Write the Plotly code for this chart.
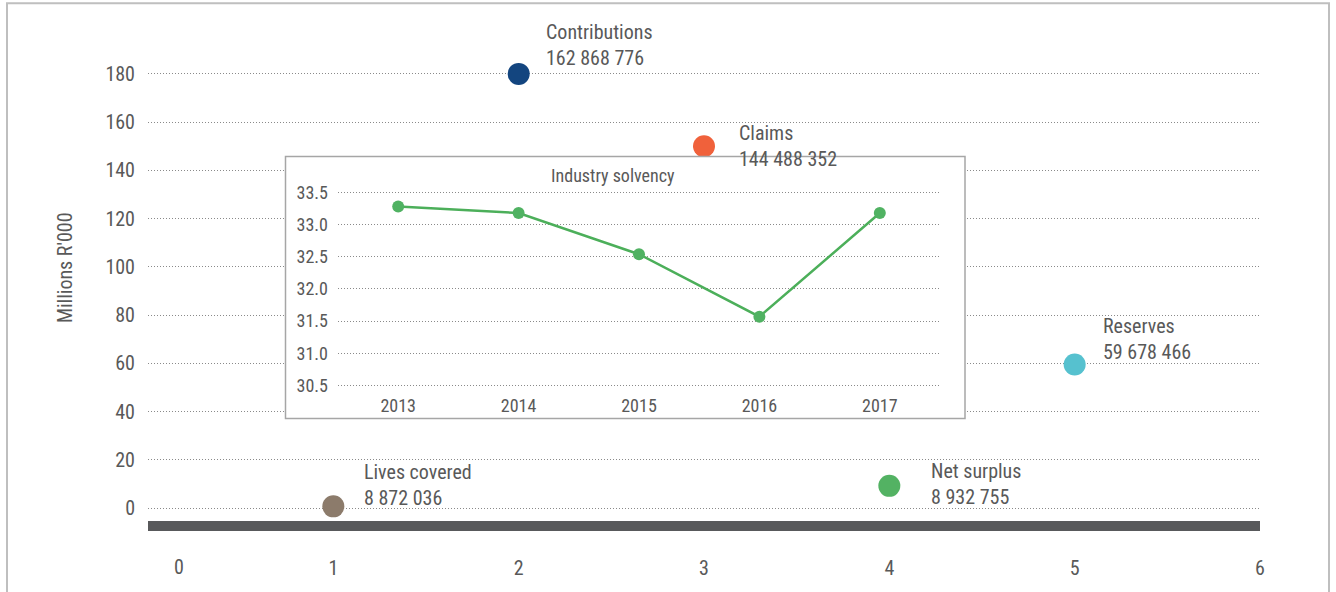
import plotly.graph_objects as go

# ---- data -------------------------------------------------------------
metrics = ["Lives covered", "Contributions", "Claims", "Net surplus", "Reserves"]
metric_pos = [1, 2, 3, 4, 5]
metric_y = [0.7, 180, 150, 9.2, 59.5]          # bubble height, Millions R'000
metric_text = ["8 872 036", "162 868 776", "144 488 352", "8 932 755", "59 678 466"]
metric_colors = ["#8c7b6b", "#13457f", "#f0613b", "#53b263", "#56c1cf"]

years = ["2013", "2014", "2015", "2016", "2017"]
solvency = [33.28, 33.18, 32.54, 31.57, 33.18]

y_ticks = [0, 20, 40, 60, 80, 100, 120, 140, 160, 180]
x_ticks = [1, 2, 3, 4, 5, 6]
x_first_tick = 0

# ---- geometry (pixels) -------------------------------------------------
W, H = 1336, 592
ML, MR, MT, MB = 148, 76, 50, 69
PW, PH = W - ML - MR, H - MT - MB


def px_x(p):
    return (p - ML) / PW


def px_y(p):
    return (H - MB - p) / PH


FONT = "Liberation Sans Narrow, Arial Narrow, Roboto Condensed, Liberation Sans, sans-serif"
TXT = "#595959"

fig = go.Figure()

# main bubbles
fig.add_trace(go.Scatter(
    x=metric_pos, y=metric_y, mode="markers",
    marker=dict(size=22, color=metric_colors, line=dict(width=0)),
    cliponaxis=False, showlegend=False, hoverinfo="skip",
))

# blank panel that hides the main grid behind the inset
fig.add_trace(go.Scatter(x=[], y=[], xaxis="x2", yaxis="y2",
                         showlegend=False, hoverinfo="skip"))

# inset: industry solvency
fig.add_trace(go.Scatter(
    x=years, y=solvency, xaxis="x3", yaxis="y3", mode="lines+markers",
    line=dict(color="#4caf5a", width=2.5),
    marker=dict(size=12, color="#50b262"),
    showlegend=False, hoverinfo="skip",
))

# labels beside each bubble: name on top, amount below
label_dx = [29, 25, 33, 40, 26]
label_dy = [21, 29, 0, 2, 26]
for name, xv, yv, amt, dx, dy in zip(metrics, metric_pos, metric_y, metric_text,
                                     label_dx, label_dy):
    fig.add_annotation(
        x=xv, y=yv, xref="x", yref="y", text=f"{name}<br>{amt}",
        showarrow=False, xanchor="left", yanchor="middle", align="left",
        xshift=dx, yshift=dy, font=dict(family=FONT, size=20, color=TXT),
    )

# first x tick label, set in from the plot edge
fig.add_annotation(
    x=x_first_tick, y=px_y(569), xref="x", yref="paper", text=str(x_first_tick),
    showarrow=False, xanchor="center", yanchor="middle", xshift=31,
    font=dict(family=FONT, size=20, color=TXT),
)

# y-axis title
fig.add_annotation(
    x=px_x(65), y=px_y(269), xref="paper", yref="paper", text="Millions R'000",
    textangle=-90, showarrow=False, xanchor="center", yanchor="middle",
    font=dict(family=FONT, size=20, color=TXT),
)

# inset title
fig.add_annotation(
    x=px_x(613), y=px_y(176), xref="paper", yref="paper", text="Industry solvency",
    showarrow=False, xanchor="center", yanchor="middle",
    font=dict(family=FONT, size=18, color=TXT),
)

# inset frame
fig.add_shape(type="rect", xref="paper", yref="paper",
              x0=px_x(285.5), x1=px_x(965), y0=px_y(420), y1=px_y(157),
              line=dict(color="#a6a6a6", width=1.5), fillcolor="rgba(0,0,0,0)",
              layer="above")

# outer frame
fig.add_shape(type="rect", xref="paper", yref="paper",
              x0=px_x(7), x1=px_x(1329), y0=px_y(620), y1=px_y(3),
              line=dict(color="#bfbfbf", width=2), fillcolor="rgba(0,0,0,0)",
              layer="above")

grid = dict(showgrid=True, gridcolor="#8a8a8a", gridwidth=1, griddash="1px,2px")

fig.update_layout(
    width=W, height=H,
    margin=dict(l=ML, r=MR, t=MT, b=MB, pad=0),
    paper_bgcolor="white", plot_bgcolor="white",
    font=dict(family=FONT, color=TXT),
    xaxis=dict(range=[0, 6], tickmode="array", tickvals=x_ticks,
               showgrid=False, zeroline=False, showline=True,
               linecolor="#58595b", linewidth=10, ticks="",
               ticklabelstandoff=20,
               tickfont=dict(family=FONT, size=20, color=TXT)),
    yaxis=dict(range=[-5.37, 189.9], tickmode="array", tickvals=y_ticks,
               zeroline=False, showline=False, ticks="", ticklabelstandoff=12,
               tickfont=dict(family=FONT, size=20, color=TXT), **grid),
    xaxis2=dict(domain=[px_x(286), px_x(965)], anchor="y2", visible=False,
                range=[0, 1]),
    yaxis2=dict(domain=[px_y(420), px_y(157)], anchor="x2", visible=False,
                range=[0, 1]),
    xaxis3=dict(domain=[px_x(338), px_x(940)], anchor="y3", type="category",
                range=[-0.5, 4.5], showgrid=False, zeroline=False,
                showline=False, ticks="", ticklabelstandoff=4,
                tickfont=dict(family=FONT, size=18, color=TXT)),
    yaxis3=dict(domain=[px_y(390.2), px_y(189.8)], anchor="x3",
                range=[30.45, 33.55], tick0=30.5, dtick=0.5, tickformat=".1f",
                zeroline=False, showline=False, ticks="", ticklabelstandoff=9,
                tickfont=dict(family=FONT, size=18, color=TXT), **grid),
)

fig.write_html("out.html")
